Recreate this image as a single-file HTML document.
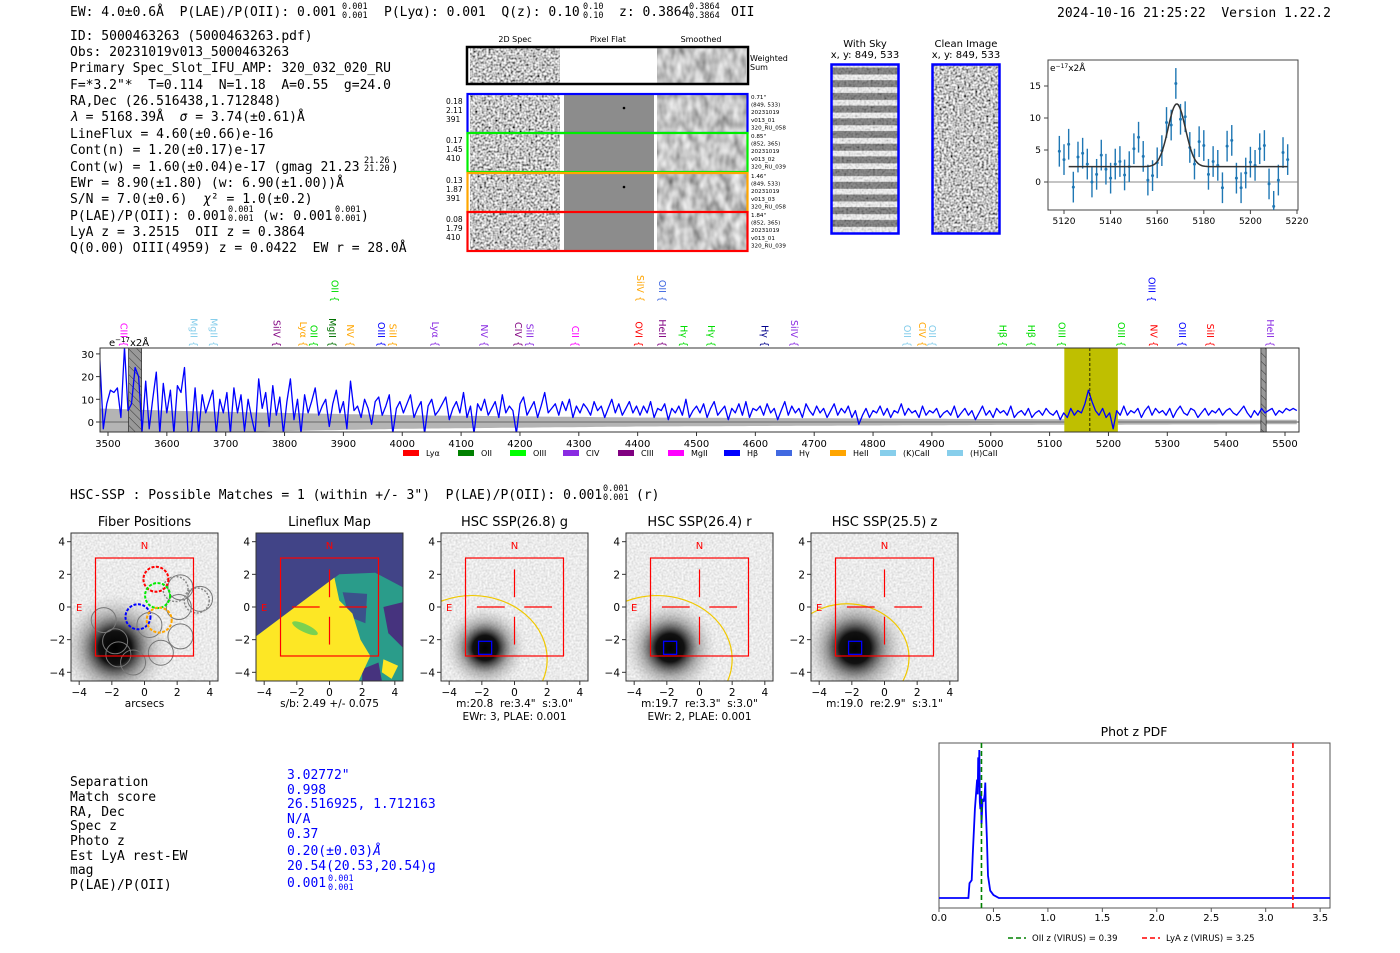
<!DOCTYPE html>
<html><head><meta charset="utf-8">
<style>
html,body{margin:0;padding:0;background:#fff;}
svg{display:block;}
svg text{white-space:pre;}
.m{font-family:"DejaVu Sans Mono","Liberation Mono",monospace;font-size:13px;fill:#000;}
.s{font-family:"DejaVu Sans","Liberation Sans",sans-serif;fill:#000;}
.sup{font-family:"DejaVu Sans Mono","Liberation Mono",monospace;font-size:8.5px;}
</style></head>
<body>
<svg id="root" width="1400" height="953" viewBox="0 0 1400 953" xmlns="http://www.w3.org/2000/svg" xml:space="preserve">
<defs>
 <filter id="nHi" x="0" y="0" width="1" height="1"><feTurbulence type="fractalNoise" baseFrequency="0.45" numOctaves="1" seed="4"/><feColorMatrix type="matrix" values="2.0 0 0 0 -0.45  2.0 0 0 0 -0.45  2.0 0 0 0 -0.45  0 0 0 0 1"/></filter>
 <filter id="nLo" x="0" y="0" width="1" height="1"><feTurbulence type="fractalNoise" baseFrequency="0.12 0.07" numOctaves="2" seed="7"/><feColorMatrix type="matrix" values="1.0 0 0 0 0.05  1.0 0 0 0 0.05  1.0 0 0 0 0.05  0 0 0 0 1"/></filter>
 <filter id="nImg" x="0" y="0" width="1" height="1"><feTurbulence type="fractalNoise" baseFrequency="0.5" numOctaves="1" seed="9"/><feColorMatrix type="matrix" values="0.5 0 0 0 0.58  0.5 0 0 0 0.58  0.5 0 0 0 0.58  0 0 0 0 1"/></filter>
 <pattern id="stripes" width="10" height="12.7" patternUnits="userSpaceOnUse"><rect width="10" height="12.7" fill="#f2f2f2"/><rect y="4" width="10" height="7" fill="#6a6a6a"/></pattern>
 <pattern id="hatch" width="6" height="6" patternUnits="userSpaceOnUse" patternTransform="rotate(-45)"><rect width="6" height="6" fill="#999"/><line x1="0" y1="0" x2="0" y2="6" stroke="#333" stroke-width="1"/></pattern>
 <radialGradient id="blob" cx="0.5" cy="0.5" r="0.5"><stop offset="0" stop-color="#000"/><stop offset="0.3" stop-color="#111"/><stop offset="0.6" stop-color="#777" stop-opacity="0.55"/><stop offset="1" stop-color="#ccc" stop-opacity="0"/></radialGradient>
 <clipPath id="mainClip"><rect x="100" y="348" width="1199" height="84"/></clipPath>
 <clipPath id="zoomClip"><rect x="1048" y="60" width="250" height="150"/></clipPath>
</defs>

<g>
 <text class="m" x="70" y="16">EW: 4.0±0.6Å  P(LAE)/P(OII): 0.001</text>
 <text class="sup" x="342" y="9">0.001</text><text class="sup" x="342" y="18">0.001</text>
 <text class="m" x="384" y="16">P(Lyα): 0.001  Q(z): 0.10</text>
 <text class="sup" x="583" y="9">0.10</text><text class="sup" x="583" y="18">0.10</text>
 <text class="m" x="619" y="16">z: 0.3864</text>
 <text class="sup" x="689" y="9">0.3864</text><text class="sup" x="689" y="18">0.3864</text>
 <text class="m" x="731" y="16">OII</text>
</g>
<text class="m" x="1057" y="17">2024-10-16 21:25:22  Version 1.22.2</text>

<g>
 <text class="m" x="70" y="40">ID: 5000463263 (5000463263.pdf)</text>
 <text class="m" x="70" y="56">Obs: 20231019v013_5000463263</text>
 <text class="m" x="70" y="72">Primary Spec_Slot_IFU_AMP: 320_032_020_RU</text>
 <text class="m" x="70" y="89">F=*3.2"*  T=0.114  N=1.18  A=0.55  g=24.0</text>
 <text class="m" x="70" y="105">RA,Dec (26.516438,1.712848)</text>
 <text class="m" x="70" y="121"><tspan font-style="italic">λ</tspan> = 5168.39Å  <tspan font-style="italic">σ</tspan> = 3.74(±0.61)Å</text>
 <text class="m" x="70" y="138">LineFlux = 4.60(±0.66)e-16</text>
 <text class="m" x="70" y="154">Cont(n) = 1.20(±0.17)e-17</text>
 <text class="m" x="70" y="171">Cont(w) = 1.60(±0.04)e-17 (gmag 21.23</text>
 <text class="sup" x="364" y="163">21.26</text><text class="sup" x="364" y="171">21.20</text><text class="m" x="391" y="171">)</text>
 <text class="m" x="70" y="187">EWr = 8.90(±1.80) (w: 6.90(±1.00))Å</text>
 <text class="m" x="70" y="203">S/N = 7.0(±0.6)  <tspan font-style="italic">χ</tspan>² = 1.0(±0.2)</text>
 <text class="m" x="70" y="220">P(LAE)/P(OII): 0.001</text>
 <text class="sup" x="228" y="212">0.001</text><text class="sup" x="228" y="221">0.001</text>
 <text class="m" x="262" y="220">(w: 0.001</text>
 <text class="sup" x="335" y="212">0.001</text><text class="sup" x="335" y="221">0.001</text><text class="m" x="361" y="220">)</text>
 <text class="m" x="70" y="236">LyA z = 3.2515  OII z = 0.3864</text>
 <text class="m" x="70" y="252">Q(0.00) OIII(4959) z = 0.0422  EW r = 28.0Å</text>
</g>

<g class="s">
 <text x="515" y="42" font-size="8" text-anchor="middle">2D Spec</text>
 <text x="608" y="42" font-size="8" text-anchor="middle">Pixel Flat</text>
 <text x="701" y="42" font-size="8" text-anchor="middle">Smoothed</text>
 <rect x="470" y="48" width="90" height="36" filter="url(#nHi)"/>
 <rect x="560" y="48" width="97" height="36" fill="#fff"/>
 <rect x="657" y="48" width="89" height="36" filter="url(#nLo)"/>
 <rect x="467" y="47" width="281" height="37" fill="none" stroke="#000" stroke-width="2.5"/>
 <text x="750" y="61" font-size="8">Weighted</text><text x="750" y="70" font-size="8">Sum</text>
</g>
<g id="rows2d"></g>

<g class="s">
 <text x="865" y="47" font-size="10" text-anchor="middle">With Sky</text>
 <text x="865" y="58" font-size="10" text-anchor="middle">x, y: 849, 533</text>
 <rect x="832" y="65" width="66" height="168" fill="url(#stripes)"/>
 <rect x="832" y="65" width="66" height="168" filter="url(#nHi)" opacity="0.25"/>
 <rect x="831.5" y="64.5" width="67" height="169" fill="none" stroke="#0000ff" stroke-width="2.5"/>
 <text x="966" y="47" font-size="10" text-anchor="middle">Clean Image</text>
 <text x="966" y="58" font-size="10" text-anchor="middle">x, y: 849, 533</text>
 <rect x="933" y="65" width="66" height="168" filter="url(#nHi)"/>
 <rect x="932.5" y="64.5" width="67" height="169" fill="none" stroke="#0000ff" stroke-width="2.5"/>
</g>

<g id="zoomSpec"></g>
<g id="mainSpec"></g>

<text class="m" x="70" y="499">HSC-SSP : Possible Matches = 1 (within +/- 3")  P(LAE)/P(OII): 0.001</text>
<text class="sup" x="603" y="491">0.001</text><text class="sup" x="603" y="500">0.001</text>
<text class="m" x="636" y="499">(r)</text>

<g id="cutouts"></g>

<g>
 <text class="m" x="70" y="786">Separation</text>
 <text class="m" x="70" y="801">Match score</text>
 <text class="m" x="70" y="816">RA, Dec</text>
 <text class="m" x="70" y="830">Spec z</text>
 <text class="m" x="70" y="845">Photo z</text>
 <text class="m" x="70" y="860">Est LyA rest-EW</text>
 <text class="m" x="70" y="874">mag</text>
 <text class="m" x="70" y="889">P(LAE)/P(OII)</text>
 <text class="m" style="fill:#0000ff" x="287" y="779">3.02772"</text>
 <text class="m" style="fill:#0000ff" x="287" y="794">0.998</text>
 <text class="m" style="fill:#0000ff" x="287" y="808">26.516925, 1.712163</text>
 <text class="m" style="fill:#0000ff" x="287" y="823">N/A</text>
 <text class="m" style="fill:#0000ff" x="287" y="838">0.37</text>
 <text class="m" style="fill:#0000ff" x="287" y="855">0.20(±0.03)<tspan font-style="italic">Å</tspan></text>
 <text class="m" style="fill:#0000ff" x="287" y="870">20.54(20.53,20.54)g</text>
 <text class="m" style="fill:#0000ff" x="287" y="887">0.001</text>
 <text class="sup" style="fill:#0000ff" x="328" y="881">0.001</text><text class="sup" style="fill:#0000ff" x="328" y="890">0.001</text>
</g>

<g id="pdf"></g>
</svg>

<script>
const specStart = 3486;
const specStep = 6;
const specFlux = [28,-3,8,14,13,15,2,33,5,8,24,20,-4,18,-3,10,22,-5,17,4,14,-5,16,13,24,-5,-4,15,-5,12,4,9,14,-5,10,4,
13,-5,15,4,12,-4,10,2,-5,19,6,13,-2,16,3,11,-5,9,19,1,10,-5,12,4,9,15,3,7,10,-2,8,14,4,9,-3,18,5,7,2,10,6,-1,9,11,3,7,12,-5,6,9,
4,8,12,2,6,9,-5,7,10,3,5,8,11,1,6,9,4,13,2,7,-5,8,5,10,3,6,9,2,12,4,7,5,-5,8,11,3,6,9,2,7,13,4,6,8,3,9,5,10,2,7,4,8,6,3,9,5,7,2,6,10,4,8,3,6,9,4,7,
3,7,4,9,2,6,5,8,1,6,4,7,3,10,2,5,7,4,8,2,6,9,3,5,7,1,6,4,8,3,9,2,6,5,7,3,8,4,6,1,5,9,3,7,4,6,2,8,5,3,7,4,6,2,5,8,3,6,4,7,2,5,-1,3,6,2,5,4,7,3,6,2,5,4,8,3,6,4,5,2,7,3,5,4,6,2,4,5,3,7,2,4,6,3,5,1,4,7,3,5,2,6,4,5,3,7,2,4,5,3,6,2,4,5,3,6,4,
3,5,1,4,2,6,3,5,4,8,14,9,5,3,6,2,4,-3,5,3,
7,3,5,4,6,2,5,7,3,6,4,5,3,6,2,5,7,4,3,6,5,2,4,6,3,5,4,6,3,5,6,4,3,5,7,4,2,5,3,6,4,5,6,3,5,4,6,5,6,5];
const errWave = [3480,3600,3800,4000,4400,5000,5520];
const errVal = [6,5,4,3,2,1.3,1];
const mainTicks = [3500,3600,3700,3800,3900,4000,4100,4200,4300,4400,4500,4600,4700,4800,4900,5000,5100,5200,5300,5400,5500];
const mainYTicks = [0,10,20,30];
const lineNames  = ["CIII","MgII","MgII","SiIV","Lyα","OII","MgII","NV","OIII","SiII","Lyα","NV","CIV","SiII","CII","OVI","HeII","Hγ","OII","SiIV","OII","Hγ","Hγ","SiIV","OII","CIV","OII","Hβ","Hβ","OIII","OIII","NV","OIII","OIII","SiII","HeII"];
const lineWaves  = [3528,3647,3681,3788,3833,3851,3882,3913,3966,3985,4057,4141,4198,4218,4295,4403,4443,4480,3887,4406,4443,4526,4617,4667,4859,4885,4902,5022,5070,5122,5223,5278,5275,5327,5374,5476];
const lineColors = ["#ff00ff","#87ceeb","#87ceeb","#800080","#ffa500","#00dd00","#007000","#ffa500","#0000ff","#ffa500","#8a2be2","#8a2be2","#800080","#8a2be2","#ff00ff","#ff0000","#800080","#00dd00","#00dd00","#ffa500","#4169e1","#00dd00","#00008b","#8a2be2","#87ceeb","#ffa500","#87ceeb","#00dd00","#00dd00","#00dd00","#00dd00","#ff0000","#0000ff","#0000ff","#ff0000","#8a2be2"];
const lineRows   = [0,0,0,0,0,0,0,0,0,0,0,0,0,0,0,0,0,0,1,1,1,0,0,0,0,0,0,0,0,0,0,0,1,0,0,0];
const legendNames = ["Lyα","OII","OIII","CIV","CIII","MgII","Hβ","Hγ","HeII","(K)CaII","(H)CaII"];
const legendColors = ["#ff0000","#008000","#00ff00","#8a2be2","#800080","#ff00ff","#0000ff","#4169e1","#ffa500","#87ceeb","#87ceeb"];
const legendX = [403,458,510,563,618,668,724,776,830,880,947];
const emWave = 5168.39;
const zoomWave = [5118,5120,5122,5124,5126,5128,5130,5132,5134,5136,5138,5140,5142,5144,5146,5148,5150,5152,5154,5156,5158,5160,5162,5164,5166,5168,5170,5172,5174,5176,5178,5180,5182,5184,5186,5188,5190,5192,5194,5196,5198,5200,5202,5204,5206,5208,5210,5212,5214,5216];
const zoomFlux = [4.8,3.5,5.9,-0.8,3.9,4.5,2.8,0,1.2,4.2,2,0.6,2.8,3.2,1.1,2.4,5.2,7,4,0.3,1,3,4.9,9.3,8.9,15.4,9.8,10.2,5.4,2.8,6.3,5.7,1.2,3.2,2.6,-0.9,5.6,6.5,0.6,-0.9,1.4,3.1,2.6,5.2,5.7,-0.3,-3.8,0.3,4.6,3.5];
const zoomErr = 2.4;
const fitCont = 2.4, fitAmp = 9.8, fitSigma = 3.74;
const zoomXTicks = [5120,5140,5160,5180,5200,5220];
const zoomYTicks = [0,5,10,15];
const pdfZ = [0,0.27,0.28,0.30,0.31,0.33,0.35,0.355,0.36,0.365,0.37,0.375,0.38,0.385,0.39,0.40,0.41,0.42,0.425,0.43,0.44,0.45,0.47,0.50,0.55,0.6,3.6];
const pdfP = [0,0,0.1,0.12,0.3,0.6,0.8,0.7,0.95,0.75,1.0,0.65,0.6,0.7,0.5,0.67,0.65,0.7,0.78,0.6,0.4,0.15,0.05,0.02,0,0,0];
const pdfTicks = [0.0,0.5,1.0,1.5,2.0,2.5,3.0,3.5];
const oiiZ = 0.39, lyaZ = 3.25;
const cutTicks = [-4,-2,0,2,4];

const NS = "http://www.w3.org/2000/svg";
function el(tag, parent, attrs) {
  const e = document.createElementNS(NS, tag);
  for (const k in attrs) e.setAttribute(k, attrs[k]);
  parent.appendChild(e);
  return e;
}
function txt(parent, x, y, s, size, anchor, fill) {
  const t = el("text", parent, {x: x, y: y, "font-size": size, "text-anchor": anchor || "start", fill: fill || "#000", "font-family": "DejaVu Sans, Liberation Sans, sans-serif"});
  t.textContent = s;
  return t;
}
function interp(xs, ys, x) {
  if (x <= xs[0]) return ys[0];
  for (let i = 1; i < xs.length; i++) if (x <= xs[i]) { const f = (x - xs[i-1]) / (xs[i] - xs[i-1]); return ys[i-1] + f * (ys[i] - ys[i-1]); }
  return ys[ys.length - 1];
}

(function(){
  const g = document.getElementById("rows2d");
  const rowY = [94,133,173,212];
  const rowC = ["#0000ff","#00ee00","#ffa500","#ff0000"];
  const rowL = [["0.18","2.11","391"],["0.17","1.45","410"],["0.13","1.87","391"],["0.08","1.79","410"]];
  const rowR = [["0.71\"","(849, 533)","20231019","v013_01","320_RU_058"],["0.85\"","(852, 365)","20231019","v013_02","320_RU_039"],["1.46\"","(849, 533)","20231019","v013_03","320_RU_058"],["1.84\"","(852, 365)","20231019","v013_01","320_RU_039"]];
  rowY.forEach((y, i) => {
    const r = el("g", g, {});
    
    
    el("rect", r, {x: 470, y: y + 1, width: 90, height: 37, filter: "url(#nHi)"});
    el("rect", r, {x: 564, y: y + 1, width: 90, height: 37, fill: "#8c8c8c"});
    el("rect", r, {x: 657, y: y + 1, width: 90, height: 37, filter: "url(#nLo)"});
    el("rect", r, {x: 467.5, y: y, width: 280, height: 39, fill: "none", stroke: rowC[i], "stroke-width": 2.2});
    rowL[i].forEach((s, k) => txt(r, 446, y + 10 + k * 9, s, 7.5));
    rowR[i].forEach((s, k) => txt(r, 751, y + 5 + k * 7.6, s, 5.6));
  });
  el("circle", g, {cx: 624, cy: 108, r: 1.3, fill: "#000"});
  el("circle", g, {cx: 624, cy: 187, r: 1.3, fill: "#000"});
})();

(function(){
  const g = document.getElementById("zoomSpec");
  const zx = w => 1064 + (w - 5120) * 2.33;
  const zy = f => 182 - f * 6.4;
  el("rect", g, {x: 1048, y: 60, width: 250, height: 150, fill: "#fff", stroke: "#444", "stroke-width": 1});
  const c = el("g", g, {"clip-path": "url(#zoomClip)"});
  el("line", c, {x1: 1048, x2: 1298, y1: zy(0), y2: zy(0), stroke: "#888", "stroke-width": 1});
  zoomWave.forEach((w, i) => {
    const p = el("g", c, {});
    
    
    el("line", p, {x1: zx(w), x2: zx(w), y1: zy(zoomFlux[i] - zoomErr), y2: zy(zoomFlux[i] + zoomErr), stroke: "#1f77b4", "stroke-width": 1.4});
    el("circle", p, {cx: zx(w), cy: zy(zoomFlux[i]), r: 1.5, fill: "#1f77b4"});
  });
  let d = "";
  for (let w = 5122; w <= 5216; w += 0.5) {
    const f = fitCont + fitAmp * Math.exp(-0.5 * Math.pow((w - emWave) / fitSigma, 2));
    d += (d ? "L" : "M") + zx(w).toFixed(1) + "," + zy(f).toFixed(1);
  }
  const fit = el("path", c, {d: d, fill: "none", stroke: "#333", "stroke-width": 1.5});
  
  
  zoomXTicks.forEach(t => { el("line", g, {x1: zx(t), x2: zx(t), y1: 210, y2: 214, stroke: "#444"}); txt(g, zx(t), 224, String(t), 9, "middle"); });
  zoomYTicks.forEach(t => { el("line", g, {x1: 1044, x2: 1048, y1: zy(t), y2: zy(t), stroke: "#444"}); txt(g, 1041, zy(t) + 3, String(t), 9, "end"); });
  const lab = el("text", g, {x: 1050, y: 71, "font-size": 9, "font-family": "DejaVu Sans, sans-serif"});
  lab.innerHTML = 'e<tspan dy="-3" font-size="6">−17</tspan><tspan dy="3">x2Å</tspan>';
})();

(function(){
  const g = document.getElementById("mainSpec");
  const xm = w => 108 + (w - 3500) * 0.5885;
  const ym = f => 422 - f * 2.27;
  el("rect", g, {x: 100, y: 348, width: 1199, height: 84, fill: "#fff"});
  const c = el("g", g, {"clip-path": "url(#mainClip)"});
  let up = "", lo = "";
  for (let w = 3480; w <= 5520; w += 10) {
    const e = interp(errWave, errVal, w);
    up += (up ? "L" : "M") + xm(w).toFixed(1) + "," + ym(e).toFixed(1);
    lo = "L" + xm(w).toFixed(1) + "," + ym(-e).toFixed(1) + lo;
  }
  const band = el("path", c, {d: up + lo + "Z", fill: "#b4b4b4"});
  
  
  el("line", c, {x1: 100, x2: 1299, y1: ym(0), y2: ym(0), stroke: "#777", "stroke-width": 1.2});
  const hl = el("rect", c, {x: xm(5125), y: 348, width: xm(5216) - xm(5125), height: 84, fill: "#bfbf00"});
  
  
  [[3535,3557],[5459,5468]].forEach(m => {
    const r = el("rect", c, {x: xm(m[0]), y: 348, width: xm(m[1]) - xm(m[0]), height: 84, fill: "url(#hatch)", stroke: "#333", "stroke-width": 0.8});
    
    
  });
  let d = "";
  specFlux.forEach((f, i) => { d += (i ? "L" : "M") + xm(specStart + i * specStep).toFixed(1) + "," + ym(f).toFixed(1); });
  const sp = el("path", c, {d: d, fill: "none", stroke: "#0000ff", "stroke-width": 1.3, "stroke-linejoin": "round"});
  
  
  el("line", c, {x1: xm(emWave), x2: xm(emWave), y1: 348, y2: 432, stroke: "#000", "stroke-width": 0.8, "stroke-dasharray": "3,2"});
  el("rect", g, {x: 100, y: 348, width: 1199, height: 84, fill: "none", stroke: "#333", "stroke-width": 1});
  mainTicks.forEach(t => { el("line", g, {x1: xm(t), x2: xm(t), y1: 432, y2: 436, stroke: "#333"}); txt(g, xm(t), 447, String(t), 10, "middle"); });
  mainYTicks.forEach(t => { el("line", g, {x1: 96, x2: 100, y1: ym(t), y2: ym(t), stroke: "#333"}); txt(g, 94, ym(t) + 4, String(t), 10, "end"); });
  const lab = el("text", g, {x: 109, y: 346, "font-size": 10, "font-family": "DejaVu Sans, sans-serif"});
  lab.innerHTML = 'e<tspan dy="-4" font-size="7">−17</tspan><tspan dy="4">x2Å</tspan>';
  lineNames.forEach((n, i) => {
    const yEnd = lineRows[i] ? 302 : 347;
    const t = el("text", g, {transform: "translate(" + (xm(lineWaves[i]) - 4).toFixed(1) + "," + yEnd + ") rotate(90)", "text-anchor": "end", "font-size": 9.5, fill: lineColors[i], "font-family": "DejaVu Sans, sans-serif"});
    
    
    t.textContent = n + " {";
  });
  legendNames.forEach((n, i) => {
    const lg = el("g", g, {});
    
    
    el("rect", lg, {x: legendX[i], y: 450, width: 16, height: 6, fill: legendColors[i]});
    txt(lg, legendX[i] + 23, 456, n, 8);
  });
})();

(function(){
  const g = document.getElementById("cutouts");
  const x0s = [71,256,441,626,811];
  const titles = ["Fiber Positions","Lineflux Map","HSC SSP(26.8) g","HSC SSP(26.4) r","HSC SSP(25.5) z"];
  const under = [["arcsecs"],["s/b: 2.49 +/- 0.075"],["m:20.8  re:3.4\"  s:3.0\"","EWr: 3, PLAE: 0.001"],["m:19.7  re:3.3\"  s:3.0\"","EWr: 2, PLAE: 0.001"],["m:19.0  re:2.9\"  s:3.1\""]];
  const ell = [null,null,[-2.6,-3.2,4.6,3.9],[-2.6,-3.2,4.6,3.9],[-2.3,-3.1,3.8,3.3]];
  const blobR = [2.1,0,1.6,1.8,2.0];
  x0s.forEach((x0, i) => {
    const p = el("g", g, {});
    
    
    const U = u => x0 + 73.5 + u * 16.33;
    const V = v => 607 - v * 16.33;
    txt(p, x0 + 73.5, 526, titles[i], 13, "middle");
    const cp = el("clipPath", p, {id: "cp" + i});
    el("rect", cp, {x: x0, y: 533, width: 147, height: 148});
    const inner = el("g", p, {"clip-path": "url(#cp" + i + ")"});
    if (i === 1) {
      el("rect", inner, {x: x0, y: 533, width: 147, height: 148, fill: "#414487"});
      const pts = (arr) => arr.map(q => U(q[0]).toFixed(1) + "," + V(q[1]).toFixed(1)).join(" ");
      el("polygon", inner, {points: pts([[-4.5,-1.8],[0.6,2.0],[2.8,2.1],[4.5,1.2],[4.5,-4.5],[-4.5,-4.5]]), fill: "#2a9c8a"});
      el("polygon", inner, {points: pts([[0.8,0.9],[2.3,0.8],[2.2,-1],[1.2,-0.6]]), fill: "#3b528b"});
      el("polygon", inner, {points: pts([[3.3,0],[4.5,0.3],[4.5,-2.5],[3.6,-1.6]]), fill: "#46337e"});
      el("polygon", inner, {points: pts([[2,-3.8],[3,-3.4],[3.2,-4.5],[2,-4.5]]), fill: "#46337e"});
      el("polygon", inner, {points: pts([[-4.5,-1.8],[0.3,1.8],[0.6,0.4],[1.4,-0.4],[1.9,-2],[2.5,-3],[1.8,-4.5],[-4.5,-4.5]]), fill: "#fde725"});
      el("polygon", inner, {points: pts([[3.3,-3.2],[4.2,-3.6],[3.8,-4.4],[3.2,-4]]), fill: "#fde725"});
      el("ellipse", inner, {cx: U(-1.5), cy: V(-1.3), rx: 14, ry: 4, fill: "#7ad151", transform: "rotate(25 " + U(-1.5) + " " + V(-1.3) + ")"});
    } else {
      el("rect", inner, {x: x0, y: 533, width: 147, height: 148, filter: "url(#nImg)"});
      el("circle", inner, {cx: U(-1.8), cy: V(-2.5), r: blobR[i] * 16.33 * 1.6, fill: "url(#blob)"});
    }
    if (ell[i]) el("ellipse", inner, {cx: U(ell[i][0]), cy: V(ell[i][1]), rx: ell[i][2] * 16.33, ry: ell[i][3] * 16.33, fill: "none", stroke: "#f0c800", "stroke-width": 1.2});
    if (i === 0) {
      const gray = [[-2.5,-0.8],[-1.8,-2.1],[-1.6,-2.9],[-0.7,-3.4],[1,-2.8],[2.2,-1.8],[2.1,0],[2.2,1.2],[3.4,0.5],[0.3,-1.1]];
      gray.forEach(q => el("circle", inner, {cx: U(q[0]), cy: V(q[1]), r: 12.5, fill: "none", stroke: "#777", "stroke-width": 1}));
      [[1.9,1.1],[3.2,0.4]].forEach(q => el("circle", inner, {cx: U(q[0]), cy: V(q[1]), r: 12.5, fill: "none", stroke: "#888", "stroke-width": 1.5, "stroke-dasharray": "2,1.5"}));
      [[0.7,1.7,"#ff0000"],[0.8,0.7,"#00ee00"],[-0.4,-0.6,"#0000ff"],[0.9,-0.8,"#ffa500"]].forEach(q => {
        const f = el("circle", inner, {cx: U(q[0]), cy: V(q[1]), r: 12.5, fill: "none", stroke: q[2], "stroke-width": 2, "stroke-dasharray": "3,1.5"});
        
        
      });
    }
    el("rect", inner, {x: U(-3), y: V(3), width: 6 * 16.33, height: 6 * 16.33, fill: "none", stroke: "#ff0000", "stroke-width": 1.2});
    if (i > 0) {
      [[-2.3,0,-0.6,0],[0.6,0,2.3,0],[0,2.3,0,0.6],[0,-0.6,0,-2.3]].forEach(s => el("line", inner, {x1: U(s[0]), y1: V(s[1]), x2: U(s[2]), y2: V(s[3]), stroke: "#ff0000", "stroke-width": 1.2}));
    }
    if (i > 1) el("rect", inner, {x: U(-2.2), y: V(-2.1), width: 0.8 * 16.33, height: 0.8 * 16.33, fill: "none", stroke: "#0000ff", "stroke-width": 1.3});
    txt(inner, U(0), V(3.8) + 4, "N", 10, "middle", "#ff0000");
    txt(inner, U(-4), V(0) + 4, "E", 10, "middle", "#ff0000");
    el("rect", p, {x: x0, y: 533, width: 147, height: 148, fill: "none", stroke: "#333", "stroke-width": 1});
    cutTicks.forEach(t => {
      el("line", p, {x1: U(t), x2: U(t), y1: 681, y2: 685, stroke: "#333"});
      txt(p, U(t), 696, t < 0 ? "−" + (-t) : String(t), 10.5, "middle");
      el("line", p, {x1: x0 - 4, x2: x0, y1: V(t), y2: V(t), stroke: "#333"});
      txt(p, x0 - 6, V(t) + 4, t < 0 ? "−" + (-t) : String(t), 10.5, "end");
    });
    under[i].forEach((s, k) => txt(p, x0 + 73.5, 707 + k * 13, s, 10.5, "middle"));
  });
})();

(function(){
  const g = document.getElementById("pdf");
  const px = z => 939 + z * 108.9;
  const py = p => 898 - p * 148;
  txt(g, 1134, 736, "Phot z PDF", 12.5, "middle");
  el("rect", g, {x: 939, y: 743, width: 391, height: 165, fill: "#fff", stroke: "#555", "stroke-width": 1});
  let d = "";
  pdfZ.forEach((z, i) => { d += (i ? "L" : "M") + Math.min(px(z), 1330).toFixed(1) + "," + py(pdfP[i]).toFixed(1); });
  const ln = el("path", g, {d: d, fill: "none", stroke: "#0000ff", "stroke-width": 1.8});
  
  
  const g1 = el("line", g, {x1: px(oiiZ), x2: px(oiiZ), y1: 743, y2: 908, stroke: "#008000", "stroke-width": 1.6, "stroke-dasharray": "5,3"});
  
  
  const r1 = el("line", g, {x1: px(lyaZ), x2: px(lyaZ), y1: 743, y2: 908, stroke: "#ff0000", "stroke-width": 1.6, "stroke-dasharray": "5,3"});
  
  
  pdfTicks.forEach(t => { el("line", g, {x1: px(t), x2: px(t), y1: 908, y2: 912, stroke: "#555"}); txt(g, px(t), 921, t.toFixed(1), 10, "middle"); });
  el("line", g, {x1: 1008, x2: 1026, y1: 938, y2: 938, stroke: "#008000", "stroke-width": 1.6, "stroke-dasharray": "5,3"});
  txt(g, 1032, 941, "OII z (VIRUS) = 0.39", 8.5);
  el("line", g, {x1: 1142, x2: 1160, y1: 938, y2: 938, stroke: "#ff0000", "stroke-width": 1.6, "stroke-dasharray": "5,3"});
  txt(g, 1166, 941, "LyA z (VIRUS) = 3.25", 8.5);
})();
</script>
</body></html>
